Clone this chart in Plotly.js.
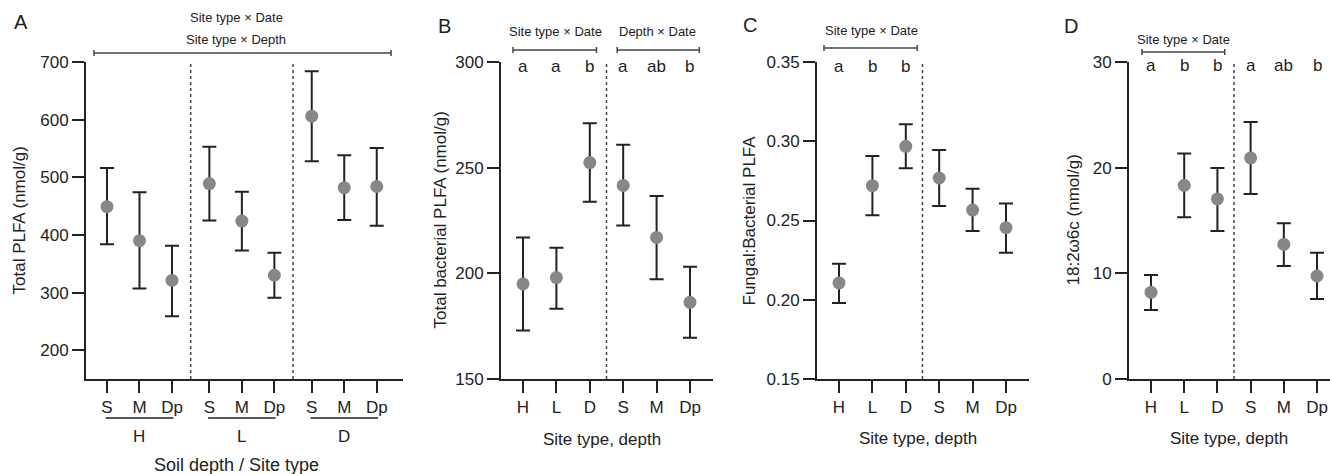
<!DOCTYPE html>
<html>
<head>
<meta charset="utf-8">
<script src="https://cdn.plot.ly/plotly-3.0.1.min.js"></script>
<style>
html,body{margin:0;padding:0;background:#fff;overflow:hidden;}
#chart{width:1330px;height:474px;}
</style>
</head>
<body>
<div id="chart"></div>
<script>
// ---------- DATA ----------
const siteTypes = ['H', 'L', 'D'];
const depths = ['S', 'M', 'Dp'];
const catsBCD = ['H', 'L', 'D', 'S', 'M', 'Dp'];

// Panel A: Total PLFA (nmol/g), order H-S,H-M,H-Dp, L-S..., D-S...
const totalMean = [449, 390, 321, 489, 424, 330, 606, 482, 484];
const totalLow  = [384, 307, 259, 425, 373, 291, 528, 426, 416];
const totalHigh = [516, 474, 381, 553, 475, 369, 684, 538, 551];

// Panel B: Total bacterial PLFA (nmol/g)
const bactMean = [195, 198, 252.4, 241.6, 217, 186.3];
const bactLow  = [173, 183.3, 233.9, 222.6, 197.2, 169.5];
const bactHigh = [217, 212.1, 271, 260.9, 236.6, 203.1];
const bactLetters = ['a', 'a', 'b', 'a', 'ab', 'b'];

// Panel C: Fungal:Bacterial PLFA
const fbMean = [0.2106, 0.272, 0.2968, 0.2768, 0.2566, 0.2455];
const fbLow  = [0.198, 0.2533, 0.2829, 0.2591, 0.2434, 0.2297];
const fbHigh = [0.2227, 0.2907, 0.3107, 0.2945, 0.2701, 0.2608];
const fbLetters = ['a', 'b', 'b', '', '', ''];

// Panel D: 18:2ω6c (nmol/g)
const linMean = [8.2, 18.33, 17.04, 20.92, 12.74, 9.75];
const linLow  = [6.53, 15.3, 14.0, 17.5, 10.69, 7.57];
const linHigh = [9.84, 21.33, 19.97, 24.32, 14.73, 11.95];
const linLetters = ['a', 'b', 'b', 'a', 'ab', 'b'];

// ---------- LAYOUT HELPERS ----------
const W = 1330, H = 474;
const px = x => x / W;
const py = y => 1 - y / H;
const FONT = 'Liberation Sans, Arial, Helvetica, sans-serif';
const INK = '#222222';
const MARK = '#878787';
const yDom = [py(379), py(62)];

// Panel A x positions: group offset 3.15, within group 1 unit
const GROUP_STEP = 3.15;
const xA = [];
const xAText = [];
siteTypes.forEach((s, g) => depths.forEach((d, k) => { xA.push(g * GROUP_STEP + k); xAText.push(d); }));
const xIdx = catsBCD.map((c, i) => i);

function trace(x, mean, low, high, xa, ya) {
  return {
    type: 'scatter', mode: 'markers', x: x, y: mean, xaxis: xa, yaxis: ya,
    marker: {color: MARK, size: 13},
    error_y: {type: 'data', symmetric: false,
      array: high.map((h, i) => h - mean[i]),
      arrayminus: low.map((l, i) => mean[i] - l),
      color: INK, thickness: 2, width: 7},
    hoverinfo: 'skip', showlegend: false, cliponaxis: false
  };
}

const data = [
  trace(xA, totalMean, totalLow, totalHigh, 'x', 'y'),
  trace(xIdx, bactMean, bactLow, bactHigh, 'x2', 'y2'),
  trace(xIdx, fbMean, fbLow, fbHigh, 'x3', 'y3'),
  trace(xIdx, linMean, linLow, linHigh, 'x4', 'y4')
];

function xaxis(domain, range, tickvals, ticktext) {
  return {domain: domain, range: range, tickvals: tickvals, ticktext: ticktext,
    showline: true, linecolor: INK, linewidth: 2, ticks: 'outside', ticklen: 12, tickwidth: 2,
    tickcolor: INK, showgrid: false, zeroline: false, fixedrange: true,
    tickfont: {family: FONT, size: 17, color: INK}};
}
function yaxis(anchor, range, tickvals, ticktext) {
  return {domain: yDom, range: range, anchor: anchor, tickvals: tickvals, ticktext: ticktext,
    showline: true, linecolor: INK, linewidth: 2, ticks: 'outside', ticklen: 12, tickwidth: 2,
    tickcolor: INK, showgrid: false, zeroline: false, fixedrange: true,
    tickfont: {family: FONT, size: 17, color: INK}};
}

const shapes = [];
const annotations = [];

function ann(text, x, y, opts) {
  annotations.push(Object.assign({text: text, x: x, y: y, xref: 'paper', yref: 'paper',
    showarrow: false, xanchor: 'center', yanchor: 'middle',
    font: {family: FONT, size: 17, color: INK}}, opts || {}));
}
function bracket(xref, x0, x1, ypx) {
  const lc = {color: '#444', width: 1.5};
  shapes.push({type: 'line', xref: xref, yref: 'paper', x0: x0, x1: x1, y0: py(ypx), y1: py(ypx), line: lc});
  [x0, x1].forEach(xx => shapes.push({type: 'line', xref: xref, yref: 'paper', x0: xx, x1: xx,
    y0: py(ypx - 3), y1: py(ypx + 3), line: lc}));
}
function vdot(xref, x) {
  shapes.push({type: 'line', xref: xref, yref: 'paper', x0: x, x1: x, y0: yDom[0], y1: yDom[1],
    line: {color: '#444', width: 1.5, dash: 'dot'}});
}

// Panel A extras
vdot('x', (2 + GROUP_STEP) / 2);
vdot('x', GROUP_STEP + (2 + 2 * GROUP_STEP - GROUP_STEP) / 2 + 0.0);
siteTypes.forEach((s, g) => {
  const x0 = g * GROUP_STEP;
  shapes.push({type: 'line', xref: 'x', yref: 'paper', x0: x0 - 0.04, x1: x0 + 2.04,
    y0: py(418), y1: py(418), line: {color: INK, width: 1.5}});
  annotations.push({text: s, x: x0 + 1, y: py(436), xref: 'x', yref: 'paper', showarrow: false,
    xanchor: 'center', yanchor: 'middle', font: {family: FONT, size: 17, color: INK}});
});
bracket('x', -0.4, 8.74, 53);
ann('Site type × Date', px(236), py(18), {font: {family: FONT, size: 13, color: INK}});
ann('Site type × Depth', px(236), py(40), {font: {family: FONT, size: 13, color: INK}});
ann('A', px(21), py(22), {font: {family: FONT, size: 20, color: INK}});
ann('Total PLFA (nmol/g)', px(19), py(220.5), {textangle: -90});
ann('Soil depth / Site type', px(236), py(465), {font: {family: FONT, size: 18, color: INK}});

// Panel B extras
vdot('x2', 2.5);
bracket('x2', -0.3, 2.2, 50);
bracket('x2', 2.82, 5.28, 50);
annotations.push({text: 'Site type × Date', x: 0.96, y: py(32), xref: 'x2', yref: 'paper', showarrow: false,
  font: {family: FONT, size: 13, color: INK}, xanchor: 'center', yanchor: 'middle'});
annotations.push({text: 'Depth × Date', x: 4.04, y: py(32), xref: 'x2', yref: 'paper', showarrow: false,
  font: {family: FONT, size: 13, color: INK}, xanchor: 'center', yanchor: 'middle'});
bactLetters.forEach((t, i) => annotations.push({text: t, x: i, y: py(67), xref: 'x2', yref: 'paper',
  showarrow: false, xanchor: 'center', yanchor: 'middle', font: {family: FONT, size: 17, color: INK}}));
ann('B', px(444), py(26), {font: {family: FONT, size: 20, color: INK}});
ann('Total bacterial PLFA (nmol/g)', px(440), py(220.5), {textangle: -90});
ann('Site type, depth', px(602), py(439));

// Panel C extras
vdot('x3', 2.5);
bracket('x3', -0.45, 2.34, 48);
annotations.push({text: 'Site type × Date', x: 0.96, y: py(31), xref: 'x3', yref: 'paper', showarrow: false,
  font: {family: FONT, size: 13, color: INK}, xanchor: 'center', yanchor: 'middle'});
fbLetters.forEach((t, i) => { if (t) annotations.push({text: t, x: i, y: py(67), xref: 'x3', yref: 'paper',
  showarrow: false, xanchor: 'center', yanchor: 'middle', font: {family: FONT, size: 17, color: INK}}); });
ann('C', px(750), py(25), {font: {family: FONT, size: 20, color: INK}});
ann('Fungal:Bacterial PLFA', px(749), py(220.5), {textangle: -90});
ann('Site type, depth', px(918), py(438));

// Panel D extras
vdot('x4', 2.5);
bracket('x4', -0.27, 2.22, 52);
annotations.push({text: 'Site type × Date', x: 0.99, y: py(39), xref: 'x4', yref: 'paper', showarrow: false,
  font: {family: FONT, size: 13, color: INK}, xanchor: 'center', yanchor: 'middle'});
linLetters.forEach((t, i) => annotations.push({text: t, x: i, y: py(66), xref: 'x4', yref: 'paper',
  showarrow: false, xanchor: 'center', yanchor: 'middle', font: {family: FONT, size: 17, color: INK}}));
ann('D', px(1071), py(26), {font: {family: FONT, size: 20, color: INK}});
ann('18:2ω6c (nmol/g)', px(1073), py(220.5), {textangle: -90});
ann('Site type, depth', px(1229), py(438));

const layout = {
  width: W, height: H, margin: {l: 0, r: 0, t: 0, b: 0},
  paper_bgcolor: '#fff', plot_bgcolor: '#fff', showlegend: false,
  font: {family: FONT, color: INK},
  xaxis: xaxis([px(86), px(403)], [-0.646, 9.108], xA, xAText),
  yaxis: yaxis('x', [150, 700], [200, 300, 400, 500, 600, 700], ['200', '300', '400', '500', '600', '700']),
  xaxis2: Object.assign(xaxis([px(501), px(713)], [-0.659, 5.689], xIdx, catsBCD), {anchor: 'y2'}),
  yaxis2: yaxis('x2', [150, 300], [150, 200, 250, 300], ['150', '200', '250', '300']),
  xaxis3: Object.assign(xaxis([px(817), px(1029)], [-0.659, 5.689], xIdx, catsBCD), {anchor: 'y3'}),
  yaxis3: yaxis('x3', [0.15, 0.35], [0.15, 0.2, 0.25, 0.3, 0.35], ['0.15', '0.20', '0.25', '0.30', '0.35']),
  xaxis4: Object.assign(xaxis([px(1129), 1], [-0.663, 5.391], xIdx, catsBCD), {anchor: 'y4'}),
  yaxis4: yaxis('x4', [0, 30], [0, 10, 20, 30], ['0', '10', '20', '30']),
  shapes: shapes,
  annotations: annotations
};
layout.xaxis.anchor = 'y';

Plotly.newPlot('chart', data, layout, {displayModeBar: false, staticPlot: true});
</script>
</body>
</html>
